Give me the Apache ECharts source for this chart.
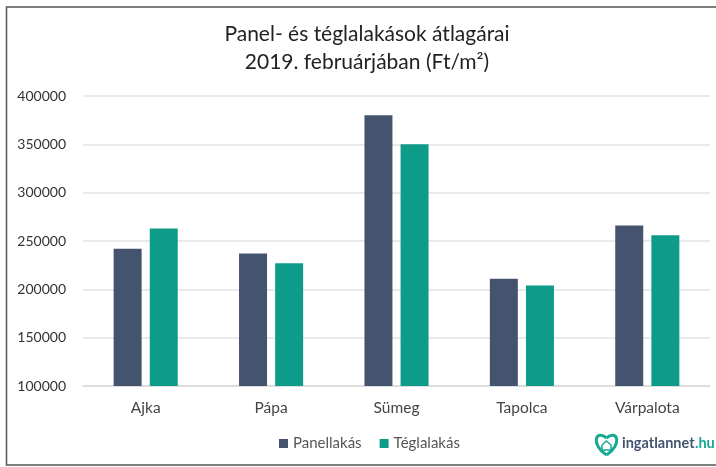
<!DOCTYPE html>
<html>
<head>
<meta charset="utf-8">
<style>
html,body{margin:0;padding:0;background:#fff}
#main{width:716px;height:467px}
</style>
<script src="https://cdn.jsdelivr.net/npm/echarts@6/dist/echarts.min.js"></script>
</head>
<body>
<div id="main"></div>
<script>
var titleLines = ['Panel- és téglalakások átlagárai', '2019. februárjában (Ft/m²)'];
var cities = ['Ajka', 'Pápa', 'Sümeg', 'Tapolca', 'Várpalota'];
var panel = [242000, 237000, 380000, 211000, 266000];
var tegla = [263000, 227000, 350000, 204000, 256000];

var myChart = echarts.init(document.getElementById('main'));
var logoStroke = {fill: 'none', stroke: '#19a992', lineWidth: 3};
myChart.setOption({
    animation: false,
    textStyle: {fontFamily: 'Lato'},
    title: {
        text: titleLines.join('\n'),
        left: 362,
        top: 15,
        textAlign: 'center',
        textStyle: {fontSize: 21, fontWeight: 'normal', color: '#222', lineHeight: 28, fontFamily: 'Lato'}
    },
    legend: {
        left: 274,
        top: 431,
        itemWidth: 9,
        itemHeight: 9,
        itemGap: 18,
        icon: 'rect',
        textStyle: {fontSize: 15, color: '#555'},
        data: ['Panellakás', 'Téglalakás']
    },
    grid: {left: 83, right: 6, top: 96, bottom: 81},
    xAxis: {
        type: 'category',
        data: cities,
        axisTick: {show: false},
        axisLine: {lineStyle: {color: '#d9d9d9', width: 1.5}},
        axisLabel: {fontSize: 15.5, color: '#444', margin: 14}
    },
    yAxis: {
        type: 'value',
        min: 100000,
        max: 400000,
        interval: 50000,
        axisLine: {show: false},
        axisTick: {show: false},
        axisLabel: {fontSize: 14, color: '#333', margin: 17, formatter: function (v) { return String(v); }},
        splitLine: {lineStyle: {color: '#e3e3e3', width: 1.5}}
    },
    series: [
        {name: 'Panellakás', type: 'bar', data: panel, barWidth: 28, barGap: '29%', itemStyle: {color: '#44546f'}},
        {name: 'Téglalakás', type: 'bar', data: tegla, barWidth: 28, itemStyle: {color: '#0f9b8a'}}
    ],
    graphic: [
        // kep kerete
        {type: 'rect', shape: {x: 6.5, y: 7, width: 712, height: 458}, style: {fill: 'none', stroke: '#555', lineWidth: 1.5}, silent: true},
        // logo
        {type: 'bezierCurve', shape: {x1: 606.5, y1: 455, cpx1: 590, cpy1: 444, cpx2: 596, cpy2: 429, x2: 606.5, y2: 438}, style: logoStroke},
        {type: 'bezierCurve', shape: {x1: 606.5, y1: 455, cpx1: 623, cpy1: 444, cpx2: 617, cpy2: 429, x2: 606.5, y2: 438}, style: logoStroke},
        {type: 'polyline', shape: {points: [[602, 445], [606.5, 441], [611, 445], [611, 450], [602, 450], [602, 445]]}, style: {fill: 'none', stroke: '#19a992', lineWidth: 1.5}},
        {type: 'text', left: 622, top: 436, style: {text: 'ingatlannet', fontSize: 14.5, fontWeight: 'bold', fill: '#44546f', fontFamily: 'Lato'}},
        {type: 'text', left: 695, top: 436, style: {text: '.hu', fontSize: 14.5, fontWeight: 'bold', fill: '#19a992', fontFamily: 'Lato'}}
    ]
});
</script>
</body>
</html>
